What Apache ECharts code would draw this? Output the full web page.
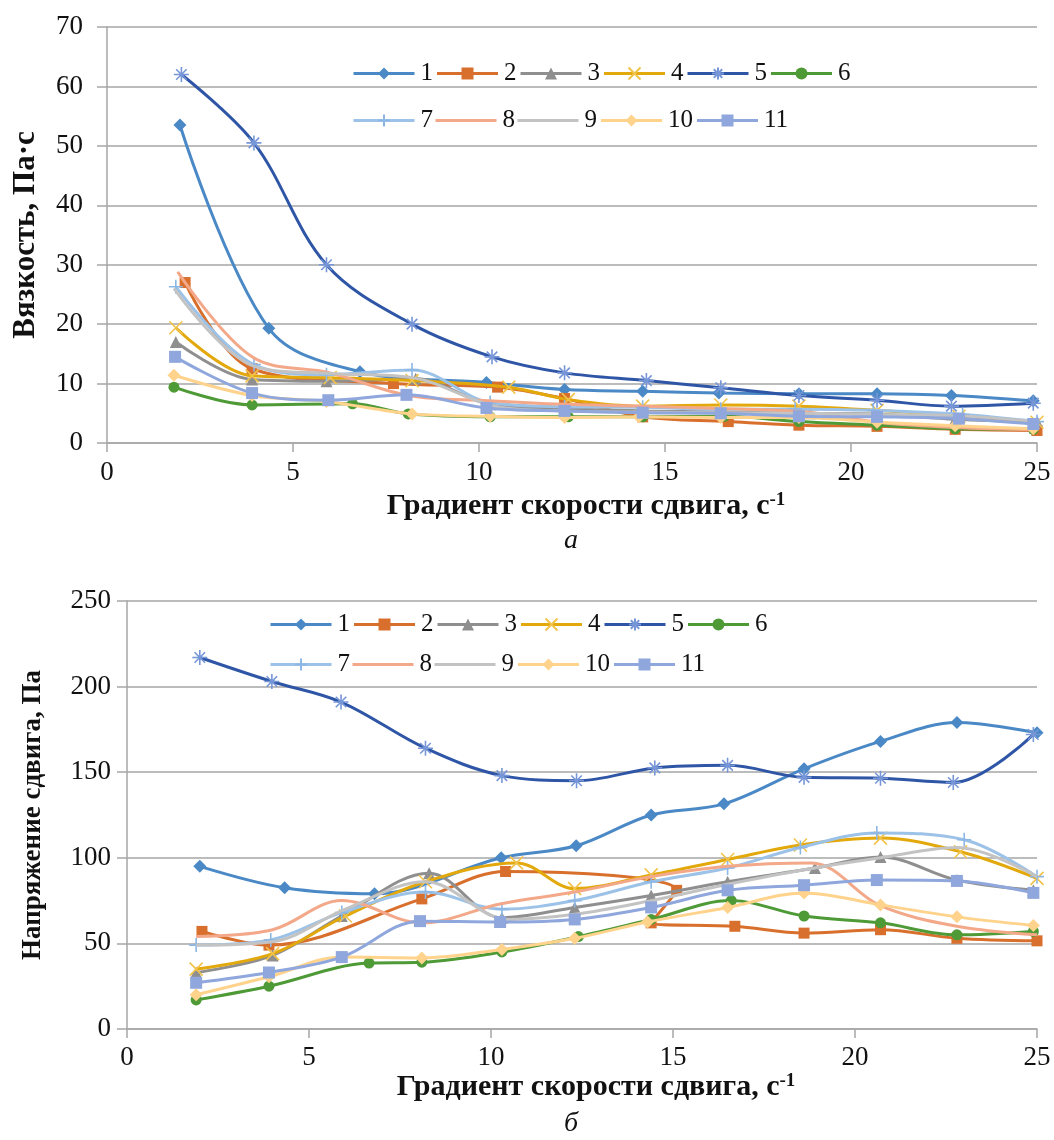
<!DOCTYPE html>
<html>
<head>
<meta charset="utf-8">
<script src="https://cdn.jsdelivr.net/npm/echarts@6/dist/echarts.min.js"></script>
<style>
html,body{margin:0;padding:0;background:#fff;}
#c{width:1054px;height:1140px;}
</style>
</head>
<body>
<div id="c"></div>
<script>
// ---- data: top chart (viscosity, Па·с) ----
const names = ['1','2','3','4','5','6','7','8','9','10','11'];
const xTicks = [0,5,10,15,20,25];
const visc1 = [[1.96,53.5],[4.35,19.3],[6.8,12],[10.2,10.2],[12.3,9],[14.4,8.7],[16.45,8.4],[18.6,8.3],[20.7,8.3],[22.7,8],[24.9,7.1]];
const visc2 = [[2.1,27],[3.9,12.5],[7.7,10],[10.5,9.4],[12.3,7.5],[14.4,4.4],[16.7,3.6],[18.6,3],[20.7,2.8],[22.8,2.3],[25,2.1]];
const visc3 = [[1.85,17],[3.9,10.7],[5.9,10.4],[8.3,10.8],[10.3,6.5],[12.3,5.8],[14.4,5.4],[16.5,5.2],[18.9,5],[20.7,4.9],[22.8,4],[25,3.6]];
const visc4 = [[1.85,19.4],[3.9,11.3],[6,11],[8.2,10.5],[10.8,9.4],[12.4,7.3],[14.4,6.2],[16.5,6.4],[18.6,6.2],[20.7,5.5],[22.9,4.5],[25,3.5]];
const visc5 = [[2,62],[3.95,50.5],[5.9,30],[8.2,20],[10.35,14.5],[12.3,11.8],[14.5,10.5],[16.5,9.3],[18.6,8],[20.7,7.2],[22.7,6.2],[24.9,6.7]];
const visc6 = [[1.8,9.4],[3.9,6.4],[6.6,6.6],[8.1,4.9],[10.3,4.4],[12.4,4.4],[14.4,4.4],[16.6,4.5],[18.6,3.6],[20.7,3],[22.8,2.4],[24.9,2.3]];
const visc7 = [[1.85,26.3],[3.95,13.2],[5.9,11.5],[8.2,12.3],[10.3,6.8],[12.3,6.1],[14.4,6],[16.5,5.7],[18.5,5.7],[20.6,5.5],[23,4.8],[25,3.6]];
const visc8 = [[1.9,28.8],[3.9,14.5],[6,11.8],[8.1,8],[10.25,7.1],[12.3,6.5],[14.4,6.2],[16.5,5.8],[18.8,5.2],[20.7,3.5],[22.8,2.6],[25,2.2]];
const visc9 = [[1.8,26],[4,12.8],[6,11.7],[8.2,11],[10.5,6.1],[12.3,5.4],[14.4,5.2],[16.5,5.1],[18.6,5],[20.7,4.8],[22.8,4.6],[25,3.6]];
const visc10 = [[1.8,11.4],[3.9,8],[5.9,7],[8.2,4.9],[10.3,4.5],[12.3,4.3],[14.3,4.4],[16.5,4.3],[18.6,4.3],[20.7,3.5],[22.8,2.9],[24.9,2.4]];
const visc11 = [[1.83,14.5],[3.9,8.4],[5.95,7.2],[8.05,8.1],[10.2,5.9],[12.3,5.4],[14.4,5.1],[16.5,5],[18.6,4.5],[20.7,4.4],[22.9,4.1],[24.9,3.2]];
const viscTicks = [0,10,20,30,40,50,60,70];

// ---- data: bottom chart (shear stress, Па) ----
const str1 = [[2,95],[4.33,82.5],[6.8,79],[10.28,100],[12.34,107],[14.4,125],[16.4,131.5],[18.6,152],[20.7,168],[22.8,179],[25,173]];
const str2 = [[2.06,57],[3.9,49],[8.1,76],[10.4,92],[15.1,81],[14.4,62],[16.7,60],[18.6,56],[20.7,58],[22.8,53],[25,51.5]];
const str3 = [[1.9,33],[4,43],[5.9,66],[8.3,91],[10.3,65],[12.3,71],[14.4,78],[16.5,86],[18.9,94],[20.7,100.5],[22.8,87],[24.9,81]];
const str4 = [[1.9,35],[4,44],[6,66],[8.2,86],[10.7,97],[12.3,82],[14.4,90],[16.5,99],[18.5,107.5],[20.7,111.5],[22.9,103.5],[25,88]];
const str5 = [[2,217],[3.98,203],[5.88,191],[8.2,164],[10.3,148],[12.35,145],[14.5,152.5],[16.5,154],[18.6,147],[20.7,146.5],[22.7,144],[24.9,172]];
const str6 = [[1.9,17],[3.9,25],[6.65,38.5],[8.1,39],[10.3,45],[12.4,54],[14.4,64],[16.6,75],[18.6,66],[20.7,62],[22.8,55],[24.9,57]];
const str7 = [[1.9,49],[3.95,52],[5.9,68],[8.2,80],[10.3,70],[12.3,75],[14.4,86],[16.5,94],[18.5,106],[20.6,114.5],[23,110.5],[25,89]];
const str8 = [[1.9,54],[4,58],[5.9,75],[8.1,62],[10.25,73],[12.3,80],[14.4,89],[16.5,95],[18.8,97],[20.7,72],[22.8,60],[25,55]];
const str9 = [[1.9,49],[4,51],[6,70],[8.2,86],[10.5,64],[12.3,67],[14.4,75],[16.5,84.5],[18.6,93],[20.7,100],[22.8,106],[25,89]];
const str10 = [[1.9,20],[3.9,30.5],[5.9,42],[8.1,41.5],[10.3,46.5],[12.3,53],[14.3,62.5],[16.5,71],[18.6,79.5],[20.7,72.5],[22.8,65.5],[24.9,60.5]];
const str11 = [[1.9,27],[3.9,33],[5.9,42],[8.05,63],[10.25,62.5],[12.3,64],[14.4,71],[16.5,81],[18.6,84],[20.6,87],[22.8,86.5],[24.9,79.5]];
const strTicks = [0,50,100,150,200,250];

const viscData = [visc1,visc2,visc3,visc4,visc5,visc6,visc7,visc8,visc9,visc10,visc11];
const strData = [str1,str2,str3,str4,str5,str6,str7,str8,str9,str10,str11];

// ---- styles ----
const FONT = '"Liberation Serif","Times New Roman",serif';
const PATH_X = 'path://M0,0L10,10M10,0L0,10';
const PATH_STAR = 'path://M5,0L5,10M0,5L10,5M1.5,1.5L8.5,8.5M8.5,1.5L1.5,8.5';
const PATH_PLUS = 'path://M5,0L5,10M0,5L10,5';
const PATH_LINE = 'path://M0,0L60,0L60,3L0,3Z';
const styles = [
  {line:'#4A89C6', mark:'#4A89C6', symbol:'diamond', size:13},
  {line:'#D86F2C', mark:'#D86F2C', symbol:'rect', size:11},
  {line:'#8F8F8F', mark:'#8F8F8F', symbol:'triangle', size:12},
  {line:'#E2A80C', mark:'#F1C34A', symbol:PATH_X, size:13, stroke:true},
  {line:'#2F56A6', mark:'#7696D8', symbol:PATH_STAR, size:15, stroke:true},
  {line:'#4E9A36', mark:'#4E9A36', symbol:'circle', size:11},
  {line:'#9CC2E8', mark:'#8DB7E4', symbol:PATH_PLUS, size:14, stroke:true},
  {line:'#F3A889', mark:'#F3A889', symbol:'none', size:0},
  {line:'#C3C3C3', mark:'#C3C3C3', symbol:'none', size:0},
  {line:'#FFD38C', mark:'#FFD38C', symbol:'diamond', size:13},
  {line:'#8FA7DC', mark:'#8FA7DC', symbol:'rect', size:12}
];

function makeSeries(dataArr, axisIdx){
  return dataArr.map((d,i)=>{
    const s = styles[i];
    const itemStyle = s.stroke
      ? {color:'rgba(0,0,0,0)', borderColor:s.mark, borderWidth:1.6}
      : {color:s.mark, borderWidth:0};
    return {
      name:names[i], type:'line', xAxisIndex:axisIdx, yAxisIndex:axisIdx,
      data:d, smooth:0.35, symbol:s.symbol, symbolSize:s.size, showSymbol:s.symbol!=='none',
      lineStyle:{color:s.line, width:3}, itemStyle:itemStyle,
      emphasis:{disabled:true}, animation:false, z:2+i
    };
  });
}

const tickLabel = {fontFamily:FONT, fontSize:27, color:'#111'};
const axisGray = '#A6A6A6';
function xAxisCfg(gridIndex, gap, margin){
  return {
    type:'value', gridIndex:gridIndex, min:xTicks[0], max:xTicks[xTicks.length-1], interval:5,
    axisLine:{show:true, lineStyle:{color:axisGray, width:1.5}},
    axisTick:{show:true, length:9, lineStyle:{color:axisGray, width:1.5}},
    axisLabel:Object.assign({margin:margin}, tickLabel),
    splitLine:{show:false},
    name:'{t|Градиент скорости сдвига, с}{s|-1}',
    nameLocation:'middle', nameGap:gap,
    nameTextStyle:{padding:[0,0,0,28], rich:{
      t:{fontFamily:FONT, fontSize:30, fontWeight:'bold', color:'#111'},
      s:{fontFamily:FONT, fontSize:19, fontWeight:'bold', color:'#111', verticalAlign:'top'}
    }}
  };
}
function yAxisCfg(gridIndex, ticks, nm, gap, margin, fs){
  return {
    type:'value', gridIndex:gridIndex, min:ticks[0], max:ticks[ticks.length-1], interval:ticks[1]-ticks[0],
    axisLine:{show:true, lineStyle:{color:axisGray, width:1.5}},
    axisTick:{show:true, length:10, lineStyle:{color:axisGray, width:1.5}},
    axisLabel:Object.assign({margin:margin}, tickLabel),
    splitLine:{show:true, lineStyle:{color:axisGray, width:1.5}},
    name:nm, nameLocation:'middle', nameGap:gap, nameRotate:90,
    nameTextStyle:{fontFamily:FONT, fontSize:fs, fontWeight:'bold', color:'#111'}
  };
}
function legendItems(list){
  return list.map(n => (n==='8' || n==='9') ? {name:n, icon:PATH_LINE} : {name:n});
}
function legendCfg(list, left, top){
  return {
    data:legendItems(list), left:left, top:top, orient:'horizontal', padding:0,
    itemWidth:61, itemHeight:15, itemGap:2.5, selectedMode:false,
    lineStyle:{width:3},
    textStyle:{fontFamily:FONT, fontSize:25, color:'#111', width:45, padding:[0,0,0,1]}
  };
}

const option = {
  backgroundColor:'#fff',
  animation:false,
  grid:[
    {left:107, right:17, top:27, bottom:697, containLabel:false},
    {left:127, right:17, top:601, bottom:111, containLabel:false}
  ],
  xAxis:[xAxisCfg(0, 48, 16), xAxisCfg(1, 38, 15)],
  yAxis:[
    yAxisCfg(0, viscTicks, 'Вязкость, Па·с', 66, 24, 31),
    yAxisCfg(1, strTicks, 'Напряжение сдвига, Па', 80, 16, 27)
  ],
  legend:[
    legendCfg(names.slice(0,6), 352, 61),
    legendCfg(names.slice(6), 352, 108),
    legendCfg(names.slice(0,6), 269, 612),
    legendCfg(names.slice(6), 269, 652)
  ],
  graphic:[
    {type:'text', left:564, top:527, style:{text:'а', font:'italic 28px '+FONT, fill:'#111'}},
    {type:'text', left:564, top:1110, style:{text:'б', font:'italic 28px '+FONT, fill:'#111'}}
  ],
  series:[].concat(makeSeries(viscData,0), makeSeries(strData,1))
};

const chart = echarts.init(document.getElementById('c'), null, {renderer:'canvas'});
chart.setOption(option);
</script>
</body>
</html>
